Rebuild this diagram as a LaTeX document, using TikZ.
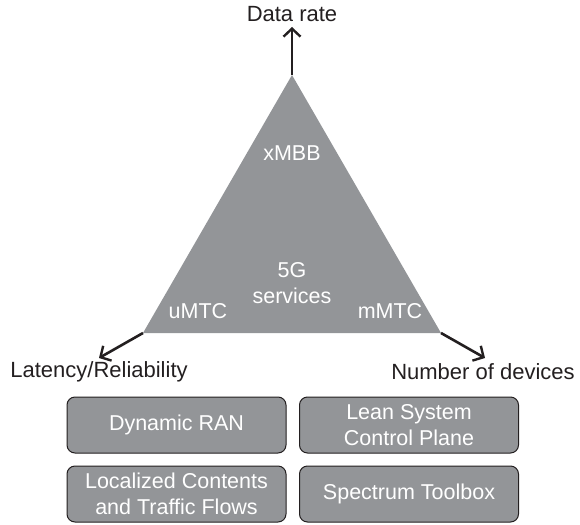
\documentclass[tikz,border=0pt]{standalone}
\usepackage{fontspec}
\setmainfont{Liberation Sans}
\usetikzlibrary{arrows.meta}
\definecolor{tgray}{HTML}{939598}
\definecolor{tdark}{HTML}{231F20}
\begin{document}
\begin{tikzpicture}[x=1pt,y=-1pt,
        axis/.style = {line width=2.6pt, draw=tdark,
            -{Straight Barb[length=8pt,width=17pt,line width=2.4pt]}},
        lbl/.style = {text=tdark, font=\fontsize{22}{26}\selectfont},
        inner/.style = {text=white, font=\fontsize{21.5}{26}\selectfont, align=center},
        block/.style = {rectangle, rounded corners=8pt,
            fill=tgray, draw=tdark, line width=1pt,
            minimum width=219pt, minimum height=56pt,
            text=white, align=center,
            font=\fontsize{21.5}{25.5}\selectfont}]

    \useasboundingbox (0,0) rectangle (580,524);

    % Triangle corners
    \coordinate (top) at (292,75);
    \coordinate (left) at (143,333);
    \coordinate (right) at (441,333);

    % Triangle
    \fill[tgray] (top) -- (left) -- (right) -- cycle;

    % Axis ends
    \coordinate (topend) at (292,27);
    \coordinate (leftend) at (99,358);
    \coordinate (rightend) at (485,358);

    % Axes
    \draw[axis] (top) -- (topend);
    \draw[axis] (left) -- (leftend);
    \draw[axis] (right) -- (rightend);

    % Axis labels
    \node[lbl] (rate) at (292,14) {Data rate};
    \node[lbl] (latency) at (99,372) {Latency/Reliability};
    \node[lbl] (devices) at (483,372) {Number of devices};

    % Services
    \node[inner] (xmbb) at (292,153) {xMBB};
    \node[inner] (fiveg) at (292,283) {5G\\services};
    \node[inner] (umtc) at (198,311) {uMTC};
    \node[inner] (mmtc) at (390,311) {mMTC};

    % Enablers
    \node[block] (ran) at (176.5,425) {Dynamic RAN};
    \node[block] (lean) at (409,425) {Lean System\\Control Plane};
    \node[block] (local) at (176.5,494) {Localized Contents\\and Traffic Flows};
    \node[block] (spectrum) at (409,494) {Spectrum Toolbox};

\end{tikzpicture}
\end{document}
